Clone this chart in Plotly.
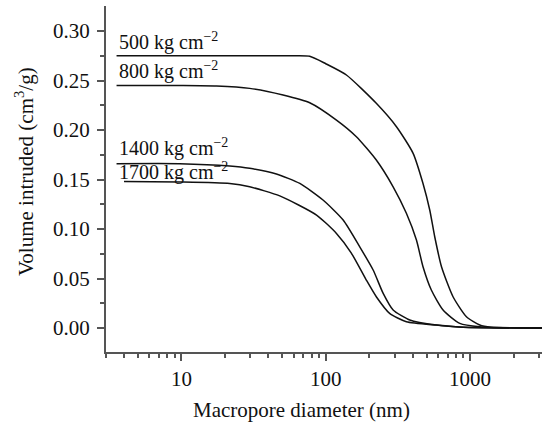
import numpy as np
import plotly.graph_objects as go

# ---- data ----
x500 = [3.55, 10, 29.7, 60, 77.4, 100, 139, 224, 309, 403, 472, 526, 569, 634, 762, 944, 1167, 1400, 3150]
y500 = [0.275, 0.275, 0.275, 0.275, 0.2745, 0.267, 0.2556, 0.227, 0.2034, 0.1765, 0.146, 0.119, 0.0922, 0.0619, 0.0316, 0.0114, 0.003, 0.0008, 0.0]

x800 = [3.55, 10, 17.5, 29.7, 50.6, 77.4, 118.6, 163, 224, 293, 362, 425, 472, 539, 650, 849, 1167, 3150]
y800 = [0.245, 0.245, 0.2445, 0.2421, 0.2354, 0.2276, 0.2101, 0.1933, 0.1697, 0.1427, 0.1159, 0.0889, 0.0619, 0.0384, 0.0182, 0.0047, 0.0013, 0.0]

x1400 = [3.55, 9.7, 21.6, 29.7, 45.5, 66.1, 95.7, 132, 172, 213, 250, 293, 382, 584, 900, 3150]
y1400 = [0.166, 0.166, 0.1636, 0.1613, 0.1556, 0.1461, 0.1293, 0.1091, 0.082, 0.0586, 0.035, 0.0182, 0.0081, 0.003, 0.0008, 0.0]

x1700 = [4.0, 9.7, 21.6, 29.7, 48, 86.3, 118.6, 150, 191, 224, 277, 362, 584, 900, 3150]
y1700 = [0.148, 0.1475, 0.146, 0.1427, 0.1335, 0.1141, 0.0956, 0.076, 0.0485, 0.0316, 0.0148, 0.0064, 0.003, 0.0008, 0.0]

labels = ["500 kg cm<sup>\u22122</sup>", "800 kg cm<sup>\u22122</sup>",
          "1400 kg cm<sup>\u22122</sup>", "1700 kg cm<sup>\u22122</sup>"]
label_y = [0.289, 0.260, 0.182, 0.158]
label_x = 3.55

x_major = [10, 100, 1000]
x_major_text = ["10", "100", "1000"]
x_minor = [m * 10 ** e for e in range(0, 4) for m in range(2, 10) if 3 <= m * 10 ** e <= 3150]
y_major = [0.00, 0.05, 0.10, 0.15, 0.20, 0.25, 0.30]
y_major_text = ["0.00", "0.05", "0.10", "0.15", "0.20", "0.25", "0.30"]
y_minor = [0.025, 0.075, 0.125, 0.175, 0.225, 0.275]

FONT = "Liberation Serif"
AX = "#555555"
INK = "#111111"
FS = 21

fig = go.Figure()
for name, xs, ys, ly in zip(labels, [x500, x800, x1400, x1700], [y500, y800, y1400, y1700], label_y):
    fig.add_trace(go.Scatter(x=xs, y=ys, mode="lines", name=name,
                             line=dict(color=INK, width=1.5, shape="spline", smoothing=0.6),
                             showlegend=False, hoverinfo="skip"))
    fig.add_annotation(x=np.log10(label_x), y=ly, xref="x", yref="y", text=name,
                       showarrow=False, xanchor="left", yanchor="middle",
                       font=dict(family=FONT, size=20, color=INK))

fig.add_annotation(x=-0.188, y=0.52, xref="paper", yref="paper",
                   text="Volume intruded (cm<sup>3</sup>/g)", textangle=-90,
                   showarrow=False, xanchor="center", yanchor="middle",
                   font=dict(family=FONT, size=FS, color=INK))
fig.add_annotation(x=0.4495, y=-0.1676, xref="paper", yref="paper",
                   text="Macropore diameter (nm)",
                   showarrow=False, xanchor="center", yanchor="middle",
                   font=dict(family=FONT, size=FS, color=INK))

fig.update_layout(
    width=542, height=424,
    margin=dict(l=106, r=0, t=6, b=72),
    paper_bgcolor="white", plot_bgcolor="white",
    font=dict(family=FONT, size=FS, color=INK),
    xaxis=dict(type="log", range=[np.log10(3), 3.4985],
               tickvals=x_major, ticktext=x_major_text,
               ticks="outside", ticklen=7, tickwidth=1.5, tickcolor=AX,
               minor=dict(tickvals=x_minor, ticks="outside", ticklen=4, tickwidth=1.5, tickcolor=AX),
               showline=True, linecolor=AX, linewidth=2, showgrid=False, zeroline=False),
    yaxis=dict(range=[-0.0242, 0.3253],
               tickvals=y_major, ticktext=y_major_text,
               ticks="outside", ticklen=7, tickwidth=1.5, tickcolor=AX,
               minor=dict(tickvals=y_minor, ticks="outside", ticklen=4, tickwidth=1.5, tickcolor=AX),
               showline=True, linecolor=AX, linewidth=2, showgrid=False, zeroline=False,
               ticklabelstandoff=3),
)

fig.write_html("out.html", config={"displayModeBar": False})

# remove the browser's default page margin so the figure sits at the window origin
with open("out.html", "r", encoding="utf-8") as f:
    html = f.read()
html = html.replace("<body>", '<body style="margin:0;padding:0;">', 1)
with open("out.html", "w", encoding="utf-8") as f:
    f.write(html)
